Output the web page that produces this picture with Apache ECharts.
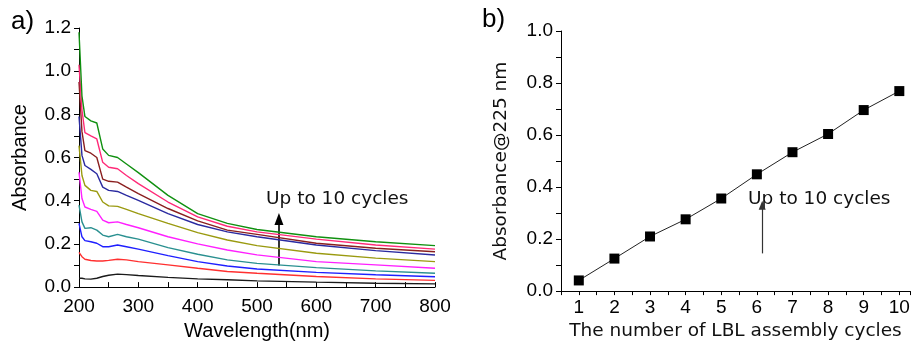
<!DOCTYPE html>
<html>
<head>
<meta charset="utf-8">
<script src="https://cdn.jsdelivr.net/npm/echarts@6/dist/echarts.min.js"></script>
<style>
  html, body { margin: 0; padding: 0; background: #fff; }
  #chart { width: 913px; height: 346px; }
</style>
</head>
<body>
<div id="chart"></div>
<script>
// panel a) spectra, one array per assembly cycle (bottom -> top)
var wavelength = [200, 205, 210, 220, 230, 240, 250, 265, 280, 300, 350, 400, 450, 500, 600, 700, 800];
var cycle1  = [0.041, 0.041, 0.038, 0.037, 0.041, 0.049, 0.055, 0.060, 0.058, 0.054, 0.045, 0.038, 0.034, 0.029, 0.023, 0.018, 0.015];
var cycle2  = [0.161, 0.141, 0.129, 0.123, 0.121, 0.121, 0.124, 0.129, 0.126, 0.118, 0.103, 0.087, 0.072, 0.064, 0.049, 0.038, 0.031];
var cycle3  = [0.295, 0.233, 0.215, 0.210, 0.203, 0.187, 0.187, 0.195, 0.187, 0.176, 0.146, 0.118, 0.098, 0.084, 0.068, 0.057, 0.048];
var cycle4  = [0.380, 0.302, 0.272, 0.275, 0.264, 0.241, 0.233, 0.244, 0.233, 0.222, 0.183, 0.152, 0.126, 0.110, 0.090, 0.075, 0.064];
var cycle5  = [0.532, 0.410, 0.371, 0.360, 0.351, 0.310, 0.298, 0.302, 0.290, 0.275, 0.233, 0.200, 0.172, 0.149, 0.118, 0.103, 0.087];
var cycle6  = [0.655, 0.517, 0.471, 0.448, 0.443, 0.394, 0.376, 0.374, 0.360, 0.340, 0.295, 0.252, 0.218, 0.192, 0.157, 0.134, 0.118];
var cycle7  = [0.790, 0.610, 0.563, 0.545, 0.525, 0.463, 0.448, 0.443, 0.425, 0.402, 0.340, 0.290, 0.256, 0.233, 0.195, 0.169, 0.149];
var cycle8  = [0.950, 0.720, 0.632, 0.620, 0.600, 0.500, 0.490, 0.486, 0.463, 0.433, 0.364, 0.307, 0.264, 0.244, 0.203, 0.180, 0.164];
var cycle9  = [1.030, 0.820, 0.715, 0.700, 0.686, 0.578, 0.555, 0.548, 0.517, 0.479, 0.394, 0.325, 0.282, 0.256, 0.222, 0.195, 0.176];
var cycle10 = [1.180, 0.885, 0.790, 0.770, 0.760, 0.640, 0.610, 0.600, 0.570, 0.530, 0.425, 0.340, 0.295, 0.267, 0.233, 0.210, 0.192];
var spectra = [cycle1, cycle2, cycle3, cycle4, cycle5, cycle6, cycle7, cycle8, cycle9, cycle10];
var spectraColors = ['#1a1a1a', '#ff3030', '#1f1fff', '#2a9090', '#ff20ff', '#9a9a10', '#2a2aa0', '#8a1f1f', '#ff2a78', '#109010'];

// panel b) absorbance at 225 nm
var cycles = [1, 2, 3, 4, 5, 6, 7, 8, 9, 10];
var abs225 = [0.041, 0.125, 0.21, 0.276, 0.356, 0.449, 0.534, 0.604, 0.696, 0.769];

var arial = 'Liberation Sans';
var wide = 'DejaVu Sans';

function pairs(xs, ys) {
    return xs.map(function (x, i) { return [x, ys[i]]; });
}

var chart = echarts.init(document.getElementById('chart'));

var series = spectra.map(function (ys, i) {
    return {
        type: 'line',
        xAxisIndex: 0,
        yAxisIndex: 0,
        data: pairs(wavelength, ys),
        symbol: 'none',
        lineStyle: { color: spectraColors[i], width: 1.4 },
        z: 2 + i
    };
});
// arrow in panel a
series[0].markLine = {
    silent: true,
    symbol: ['none', 'triangle'],
    symbolSize: [9, 12],
    label: { show: false },
    lineStyle: { color: '#000', width: 1.6, type: 'solid' },
    data: [[{ coord: [537, 0.10] }, { coord: [537, 0.315] }]]
};

series.push({
    type: 'line',
    xAxisIndex: 1,
    yAxisIndex: 1,
    data: pairs(cycles, abs225),
    symbol: 'rect',
    symbolSize: 10,
    itemStyle: { color: '#000' },
    lineStyle: { color: '#222', width: 1 },
    markLine: {
        silent: true,
        symbol: ['none', 'triangle'],
        symbolSize: [7, 9],
        label: { show: false },
        lineStyle: { color: '#333', width: 1.2, type: 'solid' },
        data: [[{ coord: [6.15, 0.145] }, { coord: [6.15, 0.33] }]]
    }
});

var option = {
    animation: false,
    backgroundColor: '#fff',
    grid: [
        { left: 79, top: 28, width: 356, height: 261 },
        { left: 561, top: 31, width: 349, height: 262 }
    ],
    xAxis: [
        {
            gridIndex: 0, type: 'value', min: 200, max: 800, interval: 100,
            name: 'Wavelength(nm)', nameLocation: 'middle', nameGap: 30,
            nameTextStyle: { fontFamily: arial, fontSize: 20, color: '#000' },
            axisLine: { show: true, onZero: false, lineStyle: { color: '#000', width: 1 } },
            axisTick: { show: true, inside: true, length: 5, lineStyle: { color: '#000' } },
            minorTick: { show: true, splitNumber: 2, length: 5, lineStyle: { color: '#000' } },
            splitLine: { show: false },
            axisLabel: { fontFamily: arial, fontSize: 19, color: '#000', margin: 10 }
        },
        {
            gridIndex: 1, type: 'value', min: 0.5, max: 10.3, interval: 0.5,
            name: 'The number of LBL assembly cycles', nameLocation: 'middle', nameGap: 24,
            nameTextStyle: { fontFamily: wide, fontSize: 18.5, color: '#111' },
            axisLine: { show: true, onZero: false, lineStyle: { color: '#000', width: 1 } },
            axisTick: { show: true, inside: false, length: 4, lineStyle: { color: '#000' } },
            splitLine: { show: false },
            axisLabel: {
                fontFamily: arial, fontSize: 19, color: '#000', margin: 7,
                formatter: function (v) { return Number.isInteger(v) ? String(v) : ''; }
            }
        }
    ],
    yAxis: [
        {
            gridIndex: 0, type: 'value', min: 0, max: 1.2, interval: 0.2,
            name: 'Absorbance', nameLocation: 'middle', nameGap: 49,
            nameTextStyle: { fontFamily: arial, fontSize: 20, color: '#000' },
            axisLine: { show: true, onZero: false, lineStyle: { color: '#000', width: 1 } },
            axisTick: { show: true, inside: false, length: 5, lineStyle: { color: '#000' } },
            minorTick: { show: true, splitNumber: 2, length: 5, lineStyle: { color: '#000' } },
            splitLine: { show: false },
            axisLabel: {
                fontFamily: arial, fontSize: 19, color: '#000', margin: 8,
                formatter: function (v) { return v.toFixed(1); }
            }
        },
        {
            gridIndex: 1, type: 'value', min: 0, max: 1.0, interval: 0.2,
            name: 'Absorbance@225 nm', nameLocation: 'middle', nameGap: 50,
            nameTextStyle: { fontFamily: wide, fontSize: 18.5, color: '#111' },
            axisLine: { show: true, onZero: false, lineStyle: { color: '#000', width: 1 } },
            axisTick: { show: true, inside: false, length: 5, lineStyle: { color: '#000' } },
            minorTick: { show: true, splitNumber: 2, length: 5, lineStyle: { color: '#000' } },
            splitLine: { show: false },
            axisLabel: {
                fontFamily: arial, fontSize: 19, color: '#000', margin: 8,
                formatter: function (v) { return v.toFixed(1); }
            }
        }
    ],
    graphic: [
        { type: 'text', x: 11, y: 22, style: { text: 'a)', font: '26px "Liberation Sans"', fill: '#000', verticalAlign: 'middle' } },
        { type: 'text', x: 482, y: 20, style: { text: 'b)', font: '26px "Liberation Sans"', fill: '#000', verticalAlign: 'middle' } },
        { type: 'text', x: 266, y: 199, style: { text: 'Up to 10 cycles', font: '18.5px "DejaVu Sans"', fill: '#111', verticalAlign: 'middle' } },
        { type: 'text', x: 748, y: 199, style: { text: 'Up to 10 cycles', font: '18.5px "DejaVu Sans"', fill: '#111', verticalAlign: 'middle' } }
    ],
    series: series
};

chart.setOption(option);
</script>
</body>
</html>
